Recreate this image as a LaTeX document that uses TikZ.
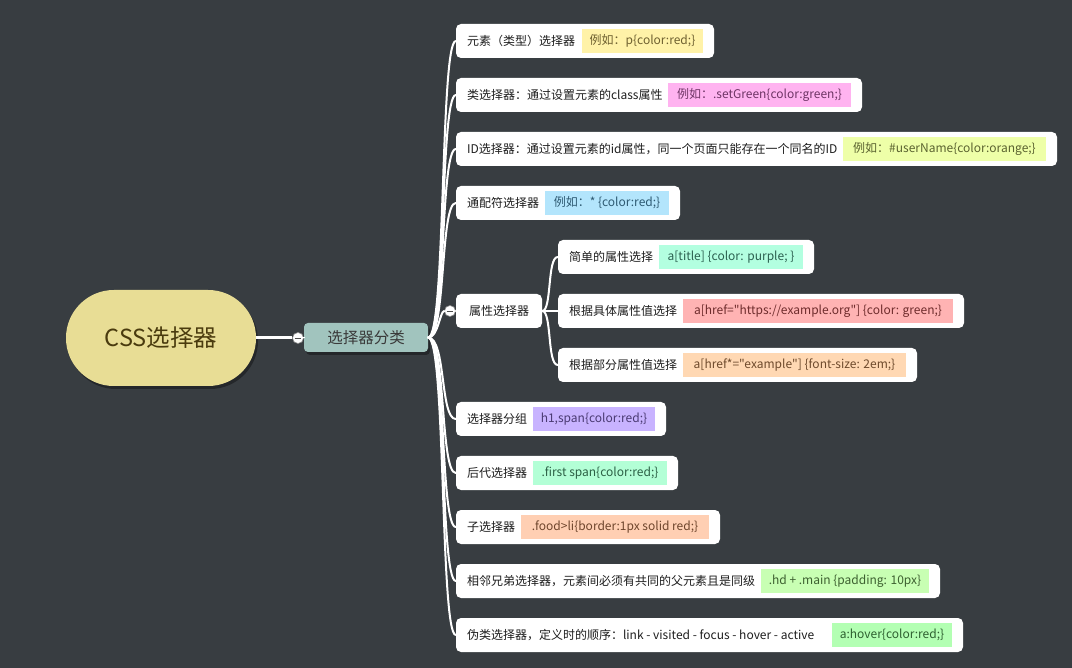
\documentclass[tikz,border=0pt]{standalone}
\usepackage{fontspec}
\setmainfont{Noto Sans CJK SC}[Ligatures=TeXOff]
\usetikzlibrary{shadows}

% palette
\definecolor{bgc}{HTML}{383D41}
\definecolor{rootfill}{HTML}{E8DD95}
\definecolor{roottext}{HTML}{4A3B0E}
\definecolor{catfill}{HTML}{A1C4BE}
\definecolor{cattext}{HTML}{3A3A3A}
\definecolor{itemtextc}{HTML}{1E1E1E}
\definecolor{yelfill}{HTML}{FFF2A8}   \definecolor{yeltext}{HTML}{6E6030}
\definecolor{pinkfill}{HTML}{FFB3F0}  \definecolor{pinktext}{HTML}{6E3565}
\definecolor{limefill}{HTML}{EEFFA8}  \definecolor{limetext}{HTML}{5B6330}
\definecolor{bluefill}{HTML}{B3E5FC}  \definecolor{bluetext}{HTML}{2E5A72}
\definecolor{mintfill}{HTML}{B3FFE0}  \definecolor{minttext}{HTML}{2C6050}
\definecolor{redfill}{HTML}{FFB3B3}   \definecolor{redtext}{HTML}{6E2C2C}
\definecolor{peachfill}{HTML}{FFD8B3} \definecolor{peachtext}{HTML}{6E4A2C}
\definecolor{lavfill}{HTML}{C8B3FF}   \definecolor{lavtext}{HTML}{4A3A72}
\definecolor{seafill}{HTML}{B3FFD6}   \definecolor{seatext}{HTML}{2C6045}
\definecolor{apricotfill}{HTML}{FFCFB3} \definecolor{apricottext}{HTML}{6E452C}
\definecolor{leaffill}{HTML}{C8FFB3}  \definecolor{leaftext}{HTML}{3D6030}
\definecolor{greenfill}{HTML}{B3FFB3} \definecolor{greentext}{HTML}{2E6030}

\tikzset{
  rootnode/.style={draw=none, fill=rootfill, text=roottext, rounded corners=47.9pt,
    minimum width=190pt, minimum height=96pt, inner sep=0pt,
    font=\fontsize{23.5}{28}\selectfont,
    drop shadow={shadow xshift=2pt, shadow yshift=-3pt, fill=black, opacity=.35}},
  catnode/.style={fill=catfill, text=cattext, rounded corners=4pt,
    minimum width=124pt, minimum height=29pt, inner sep=0pt,
    font=\fontsize{15.5}{18}\selectfont,
    drop shadow={shadow xshift=2pt, shadow yshift=-3pt, fill=black, opacity=.35}},
  itembox/.style={fill=white, rounded corners=5pt, minimum height=34pt, inner sep=0pt},
  itemtext/.style={text=itemtextc, inner sep=0pt, font=\fontsize{12}{14}\selectfont},
  tagbox/.style={minimum height=24pt, inner sep=0pt, font=\fontsize{12}{14}\selectfont},
  toggle/.style={circle, fill=white, draw=black!45, line width=.6pt, minimum size=11pt, inner sep=0pt},
  togglebar/.style={draw=black!70, line width=.9pt},
  link/.style={draw=white, line width=2pt, line cap=round},
  trunk/.style={draw=white, line width=3pt},
}

% one topic: name, left x, centre y, right x, tag left x, tag colour, topic text, tag text
\newcommand\mmtopic[8]{%
  \pgfmathsetmacro\mmbw{#4-#2}%
  \pgfmathsetmacro\mmbx{(#4+#2)/2}%
  \pgfmathsetmacro\mmtw{#4-11-#5}%
  \pgfmathsetmacro\mmtx{(#4-11+#5)/2}%
  \node[itembox, minimum width=\mmbw pt] (#1) at (\mmbx,#3) {};
  \node[itemtext, anchor=west] (#1-l) at ([xshift=11pt]#1.west) {#7};
  \node[tagbox, fill=#6fill, text=#6text, minimum width=\mmtw pt] (#1-t) at (\mmtx,#3) {#8};
}

\begin{document}
\begin{tikzpicture}[x=1pt, y=-1pt]
  % background
  \fill[bgc] (0,0) rectangle (1072,668);
  \useasboundingbox (0,0) rectangle (1072,668);

  % central topic and category
  \node[rootnode] (root) at (161,338) {CSS选择器};
  \node[catnode] (cat) at (366,337.5) {选择器分类};
  \node[toggle] (t0) at (298,338) {};
  \draw[togglebar] ([xshift=2.5pt]t0.west) -- ([xshift=-2.5pt]t0.east);

  % first-level topics
  \mmtopic{a}{456}{41}{714}{582}{yel}{元素（类型）选择器}{例如：p\{color:red;\}}
  \mmtopic{b}{456}{95}{862}{668}{pink}{类选择器：通过设置元素的class属性}{例如：.setGreen\{color:green;\}}
  \mmtopic{c}{456}{149}{1057}{843}{lime}{ID选择器：通过设置元素的id属性，同一个页面只能存在一个同名的ID}{例如：\#userName\{color:orange;\}}
  \mmtopic{d}{456}{203}{680}{545}{blue}{通配符选择器}{例如：* \{color:red;\}}
  \node[itembox, minimum width=86pt] (e) at (499,311) {};
  \node[itemtext] (e-l) at (e) {属性选择器};
  \mmtopic{f}{456}{419}{666}{533}{lav}{选择器分组}{h1,span\{color:red;\}}
  \mmtopic{g}{456}{473}{678}{533}{sea}{后代选择器}{.first span\{color:red;\}}
  \mmtopic{h}{456}{527}{720}{521}{apricot}{子选择器}{.food>li\{border:1px solid red;\}}
  \mmtopic{i}{456}{581}{940}{761}{leaf}{相邻兄弟选择器，元素间必须有共同的父元素且是同级}{.hd + .main \{padding: 10px\}}
  \mmtopic{j}{456}{635}{963}{832}{green}{伪类选择器，定义时的顺序：link - visited - focus - hover - active}{a:hover\{color:red;\}}

  % second-level topics under the attribute selector
  \mmtopic{e1}{558}{257}{814}{659}{mint}{简单的属性选择}{a[title] \{color: purple; \}}
  \mmtopic{e2}{558}{311}{964}{683}{red}{根据具体属性值选择}{a[href="https://example.org"] \{color: green;\}}
  \mmtopic{e3}{558}{365}{917}{683}{peach}{根据部分属性值选择}{a[href*="example"] \{font-size: 2em;\}}
  \node[toggle] (t1) at (450,311) {};
  \draw[togglebar] ([xshift=2.5pt]t1.west) -- ([xshift=-2.5pt]t1.east);

  % connectors
  \draw[trunk] (root.east) -- (t0.west);
  \draw[trunk] (t0.east) -- (cat.west);
  \foreach \n/\y in {a/41,b/95,c/149,d/203,f/419,g/473,h/527,i/581,j/635}{
    \draw[link] (cat.east) .. controls (446,338) and (440,\y) .. (\n.west);
  }
  \draw[link] (cat.east) .. controls (438,338) and (440,311) .. (t1.west);
  \draw[link] (t1.east) -- (e.west);
  \draw[link] (e.east) .. controls (552,311) and (547,257) .. (e1.west);
  \draw[link] (e.east) -- (e2.west);
  \draw[link] (e.east) .. controls (552,311) and (547,365) .. (e3.west);
\end{tikzpicture}
\end{document}
